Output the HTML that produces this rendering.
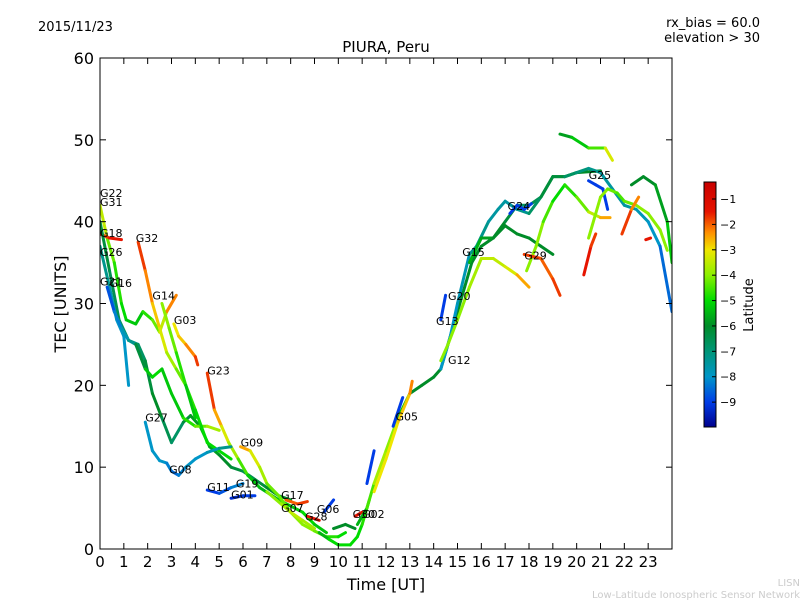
<!DOCTYPE html>
<html><head><meta charset="utf-8"><style>
body{margin:0;background:#fff;font-family:"Liberation Sans","DejaVu Sans",sans-serif}
svg text{font-family:"DejaVu Sans","Liberation Sans",sans-serif}
</style></head><body>
<svg id="c" width="800" height="600" xmlns="http://www.w3.org/2000/svg">
<defs><linearGradient id="jet" x1="0" y1="1" x2="0" y2="0"></linearGradient>
<clipPath id="pc"><rect x="100" y="58" width="572" height="491"/></clipPath></defs>
<text x="38" y="31" font-size="13">2015/11/23</text>
<text x="760" y="27" font-size="13" text-anchor="end">rx_bias = 60.0</text>
<text x="760" y="42" font-size="13" text-anchor="end">elevation &gt; 30</text>
<text x="386" y="52" font-size="15" text-anchor="middle">PIURA, Peru</text>
<g id="plot" clip-path="url(#pc)"></g>
<rect x="100" y="58" width="572" height="491" fill="none" stroke="#000"/>
<g id="axes"></g>
<text x="386" y="590" font-size="16" text-anchor="middle">Time [UT]</text>
<text x="66" y="304" font-size="16" text-anchor="middle" transform="rotate(-90 66 304)">TEC [UNITS]</text>
<rect x="704" y="182" width="12" height="245" fill="url(#jet)" stroke="#000"/>
<g id="cbticks"></g>
<text x="753" y="305" font-size="13" text-anchor="middle" transform="rotate(-90 753 305)">Latitude</text>
<text x="800" y="586" font-size="10" fill="#ccc" text-anchor="end">LISN</text>
<text x="800" y="598" font-size="10" fill="#ccc" text-anchor="end">Low-Latitude Ionospheric Sensor Network</text>
</svg>
<script>
const xTicks=[0,1,2,3,4,5,6,7,8,9,10,11,12,13,14,15,16,17,18,19,20,21,22,23];
const yTicks=[0,10,20,30,40,50,60];
const cbTicks=[-1,-2,-3,-4,-5,-6,-7,-8,-9];
const tracks=[
[[0,42,-3],[0.3,38,-4],[0.6,35,-4.5],[0.9,30,-5],[1.1,28,-5],[1.5,27.5,-5.5],[1.8,29,-5],[2.2,28,-4.5],[2.5,26.5,-4],[2.8,29,-3],[3.2,31,-1.5]],
[[0,38.5,-2],[0.4,38,-1.5],[0.9,37.8,-1.5]],
[[0,40,-6],[0.4,34,-6.5],[0.8,28,-6.5],[1.2,25.5,-7],[1.6,25,-7],[1.9,23,-6.5],[2.2,19,-6],[2.6,16,-6],[3,13,-7],[3.5,15.5,-6.5],[3.8,16.3,-6],[4.2,15,-5.5],[4.6,12.5,-5.5],[5,11.5,-6],[5.5,10,-6],[6,9.5,-6.5],[6.5,8.5,-6.5],[7,7.5,-6],[7.5,6.5,-6],[8,6,-6]],
[[0,37,-7],[0.4,32,-7.5],[0.7,28,-8],[1,26,-8],[1.2,20,-8]],
[[0.3,32,-9],[0.6,29,-8.5],[0.9,27,-8],[1.2,25.5,-7.5],[1.5,25,-7],[1.9,22,-5.5],[2.2,21,-5],[2.6,22,-5],[3,19,-5.5],[3.5,16,-5],[4,15,-4.5],[4.5,15,-4],[5,14.5,-3.5]],
[[1.6,37.5,-1.5],[1.9,34,-2],[2.2,30,-2.5],[2.5,27,-3],[2.8,24,-3.5],[3.2,22,-4],[3.6,20,-4.5],[4,17,-5],[4.5,13,-5],[5,12,-5],[5.5,11,-5]],
[[2.6,30,-4],[2.9,27,-4],[3.2,24,-4.5],[3.6,20,-5],[4,16,-5.5]],
[[3.1,27.5,-3],[3.3,26,-3],[3.6,25,-2.5],[4,23.5,-2],[4.1,22.5,-1.5]],
[[4.5,21.5,-1.5],[4.8,17,-2],[5.1,15,-3],[5.4,13,-3.5],[5.8,11,-4],[6.2,9,-5],[6.7,7.5,-5.5],[7.5,6,-5.5],[8.5,4.5,-5],[9,3,-5],[9.5,2,-5.5]],
[[5.9,12.5,-2],[6.3,12,-3],[6.7,10,-3.5],[7,8,-4],[7.5,6.5,-4.5],[8,4.5,-4],[8.5,3,-4],[9,2.2,-4],[9.5,1.5,-4.5],[10,1.5,-5],[10.3,2,-5]],
[[7,7,-4],[7.6,5.5,-4],[8,4.5,-3.5],[8.5,3.5,-3.5],[9,2.5,-4]],
[[9.2,2,-6],[9.6,1.2,-5],[10,0.5,-5],[10.5,0.5,-5],[10.8,1.5,-5],[11,3,-5],[11.3,6,-4.5]],
[[1.9,15.5,-8],[2.2,12,-8],[2.5,10.8,-8],[2.8,10.5,-8],[3,9.5,-8.5],[3.3,9,-8.5],[3.6,10,-8],[4,11,-8],[4.5,11.8,-8],[5,12.3,-7.5],[5.5,12.5,-7]],
[[4.5,7.2,-9],[5,6.8,-9],[5.5,7.5,-8.5],[6,8,-8]],
[[5.5,6.2,-9.5],[6,6.5,-9],[6.5,6.5,-9]],
[[7.8,6,-2],[8.3,5.5,-2],[8.7,5.8,-1.5]],
[[8.7,4,-1.5],[9.2,3.5,-1.5]],
[[9.4,4.5,-9],[9.8,6,-9]],
[[9.8,2.5,-6],[10.3,3,-6],[10.7,2.5,-6]],
[[10.7,4,-1.5],[11,4.5,-1.5]],
[[10.8,3,-6],[11.2,5,-5],[11.5,8,-4],[12,12,-3.5],[12.5,16,-4.5],[13,19,-6],[13.5,20,-6],[14,21,-6],[14.3,22,-6],[14.6,25,-6],[15,29,-6],[15.3,32,-6],[15.6,35,-6],[16,37,-6],[16.5,38,-6],[17,40,-6],[17.5,42,-6.5],[18,42,-7],[18.5,43,-6],[19,45.5,-6],[19.5,45.5,-6],[20,46,-6],[21,46.2,-6]],
[[11.5,7,-3],[12,11,-3],[12.5,15.5,-3],[13,19,-2.5],[13.1,20.5,-2]],
[[11.2,8,-9],[11.5,12,-9]],
[[12.3,15,-9],[12.7,18.5,-9]],
[[14.3,28,-9],[14.5,31,-9]],
[[14.3,22,-8],[14.7,26,-8],[15,30,-8],[15.5,36,-7.5],[15.8,37,-7],[16.3,40,-7.5],[16.7,41.5,-7.5],[17,42.5,-7.5],[17.5,41.5,-7.5],[18,41,-7],[18.5,43,-6.5],[19,45.5,-6],[19.5,45.5,-6.5],[20,46,-7],[20.5,46.5,-7],[21,46,-7.5],[21.5,44,-7.5],[22,42,-7.5],[22.5,41.5,-7.5],[23,40,-8],[23.5,37,-8],[24,29,-9]],
[[14.3,23,-4],[14.6,25,-4],[15,28,-4],[15.5,32,-4],[16,35.5,-3.5],[16.5,35.5,-3.5],[17,34.5,-3.5],[17.5,33.5,-3],[18,32,-2]],
[[15.5,35,-5.5],[16,38,-5.5],[16.5,38,-6],[17,39.5,-6],[17.5,38.5,-6],[18,38,-6],[18.5,37,-6],[19,36,-6]],
[[17.9,34,-4],[18.3,37,-4],[18.6,40,-4],[19,42.5,-5],[19.5,44.5,-5],[20,43,-4.5],[20.5,41.2,-4],[21,40.5,-3],[21.4,40.5,-2]],
[[17.8,36,-1.5],[18.5,35.5,-2],[19,33,-2],[19.3,31,-1.5]],
[[17.2,41,-9],[17.5,42,-9],[17.8,41.5,-9],[18.1,42.2,-9]],
[[19.3,50.7,-6],[19.8,50.3,-5.5],[20.5,49,-5],[21.2,49,-4],[21.5,47.5,-2.5]],
[[20.5,45,-9],[20.8,44.5,-9],[21.1,44,-9],[21.3,41.5,-9]],
[[20.3,33.5,-1.5],[20.6,37,-1.5],[20.8,38.5,-2]],
[[20.5,38,-4],[21,43,-4],[21.3,44,-4],[21.7,43.5,-4.5],[22,42.5,-4.5],[22.5,42,-4],[23,41,-4],[23.5,39,-4],[23.8,36.5,-4]],
[[21.9,38.5,-1.5],[22.3,41.5,-2],[22.6,43,-2.5]],
[[22.3,44.5,-6],[22.8,45.5,-6],[23.3,44.5,-6],[23.8,40,-5.5],[24,35,-5]],
[[22.9,37.8,-1.5],[23.1,38,-1.5]]
];
const labels=[["G22",0,43],["G31",0,41.9],["G18",0,38.1],["G26",0,35.8],["G21",0,32.2],["G16",0.4,32],["G32",1.5,37.5],["G14",2.2,30.5],["G03",3.1,27.5],["G23",4.5,21.3],["G27",1.9,15.6],["G08",2.9,9.2],["G09",5.9,12.5],["G11",4.5,7.1],["G19",5.7,7.5],["G01",5.5,6.2],["G17",7.6,6.1],["G07",7.6,4.5],["G28",8.6,3.5],["G06",9.1,4.4],["G30",10.6,3.8],["G02",11,3.8],["G05",12.4,15.7],["G13",14.1,27.4],["G20",14.6,30.4],["G12",14.6,22.6],["G15",15.2,35.8],["G29",17.8,35.4],["G24",17.1,41.4],["G25",20.5,45.2]];
const X=t=>100+t*572/24, Y=v=>549-v*491/60;
const LTOP=-0.33, LBOT=-9.98;
const CB=l=>182+(LTOP-l)*245/(LTOP-LBOT);
const cmap=[[-10,0,0,140],[-9,0,60,230],[-8,0,150,200],[-7,0,150,120],[-6,0,140,40],[-5,0,220,0],[-4,140,240,0],[-3,240,230,0],[-2.3,255,140,0],[-1.5,230,20,0],[-0.3,200,0,0]];
function jet(l){if(l<=cmap[0][0])return `rgb(${cmap[0].slice(1)})`;
 for(let i=0;i<cmap.length-1;i++){const a=cmap[i],b=cmap[i+1];if(l<=b[0]){const f=(l-a[0])/(b[0]-a[0]);
 return `rgb(${[1,2,3].map(k=>Math.round(a[k]+(b[k]-a[k])*f)).join(',')})`;}}
 return `rgb(${cmap[cmap.length-1].slice(1)})`;}
const NS="http://www.w3.org/2000/svg";
const grad=document.getElementById('jet');
cmap.forEach(s=>{const st=document.createElementNS(NS,'stop');st.setAttribute('offset',Math.max(0,Math.min(1,(s[0]-LBOT)/(LTOP-LBOT))));st.setAttribute('stop-color',`rgb(${s.slice(1)})`);grad.appendChild(st);});
const plot=document.getElementById('plot'),axes=document.getElementById('axes'),cb=document.getElementById('cbticks');
function mk(tag,at,par){const e=document.createElementNS(NS,tag);for(const k in at)e.setAttribute(k,at[k]);par.appendChild(e);return e;}
tracks.forEach((tr,i)=>{for(let j=0;j<tr.length-1;j++){const a=tr[j],b=tr[j+1];
 const e=mk('line',{x1:X(a[0]),y1:Y(a[1]),x2:X(b[0]),y2:Y(b[1]),stroke:jet((a[2]+b[2])/2),'stroke-width':3,'stroke-linecap':'round'},plot);
 
 }});
labels.forEach(l=>{const e=mk('text',{x:X(l[1]),y:Y(l[2]),'font-size':11},plot);e.textContent=l[0];
 
 });
xTicks.forEach(t=>{mk('line',{x1:X(t),x2:X(t),y1:549,y2:543,stroke:'#000'},axes);mk('line',{x1:X(t),x2:X(t),y1:58,y2:64,stroke:'#000'},axes);
 const e=mk('text',{x:X(t),y:567,'font-size':15,'text-anchor':'middle'},axes);e.textContent=t;
 
 });
yTicks.forEach(v=>{mk('line',{x1:100,x2:106,y1:Y(v),y2:Y(v),stroke:'#000'},axes);mk('line',{x1:666,x2:672,y1:Y(v),y2:Y(v),stroke:'#000'},axes);
 const e=mk('text',{x:94,y:Y(v)+6,'font-size':16,'text-anchor':'end'},axes);e.textContent=v;
 
 });
cbTicks.forEach(v=>{mk('line',{x1:712,x2:716,y1:CB(v),y2:CB(v),stroke:'#000'},cb);
 const e=mk('text',{x:720,y:CB(v)+4,'font-size':11},cb);e.textContent='\u2212'+(-v);
 
 });
</script>
</body></html>
